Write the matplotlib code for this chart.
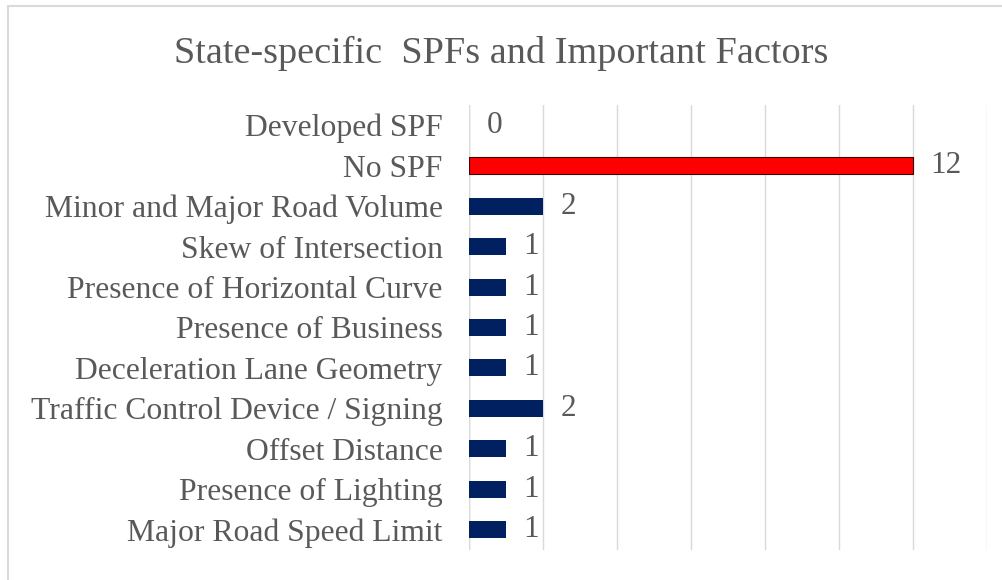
import matplotlib
matplotlib.use("Agg")
import matplotlib.pyplot as plt
from matplotlib.patches import Rectangle

categories = [
    "Developed SPF",
    "No SPF",
    "Minor and Major Road Volume",
    "Skew of Intersection",
    "Presence of Horizontal Curve",
    "Presence of Business",
    "Deceleration Lane Geometry",
    "Traffic Control Device / Signing",
    "Offset Distance",
    "Presence of Lighting",
    "Major Road Speed Limit",
]
values = [0, 12, 2, 1, 1, 1, 1, 2, 1, 1, 1]
title = "State-specific  SPFs and Important Factors"

RED = "#FF0000"
NAVY = "#002060"
TEXT = "#595959"

plt.rcParams["font.family"] = ["Liberation Serif", "DejaVu Serif"]

fig = plt.figure(figsize=(10.03, 5.80), dpi=100)
ax = fig.add_axes([469/1003, 1-550/580, (987-469)/1003, (550-105)/580])

colors = [RED if c == "No SPF" else NAVY for c in categories]
ypos = list(range(len(categories)))
bars = ax.barh(ypos, values, height=0.42, color=colors, zorder=3)
for b, c in zip(bars, categories):
    if c == "No SPF":
        b.set_edgecolor("#400000")
        b.set_linewidth(0.8)

ax.set_ylim(len(categories) - 0.5, -0.5)
ax.set_xlim(0, 14)
ax.set_xticks(range(0, 15, 2))
ax.tick_params(axis="x", which="both", bottom=False, labelbottom=False)
ax.tick_params(axis="y", length=0, pad=19, labelsize=22.8, labelcolor=TEXT)
ax.set_yticks(ypos)
ax.set_yticklabels(categories)
ax.grid(axis="x", color="#D9D9D9", linewidth=1, zorder=0)
for s in ax.spines.values():
    s.set_visible(False)
ax.axvline(0, color="#D9D9D9", linewidth=1, zorder=1)

for y, v in zip(ypos, values):
    ax.annotate(str(v), xy=(v, y), xytext=(12.5, 0), textcoords="offset points",
                ha="left", va="center", fontsize=22.5, color=TEXT)

fig.text(0.5, 1-53/580, title, ha="center", va="center", fontsize=27.5, color=TEXT)

fig.patches.append(Rectangle((8/1003, -0.1), 1.2, 1.1 - 6/580,
                             transform=fig.transFigure, fill=False,
                             edgecolor="#D9D9D9", linewidth=1.5))

fig.savefig("out.png", dpi=100, facecolor="white")
